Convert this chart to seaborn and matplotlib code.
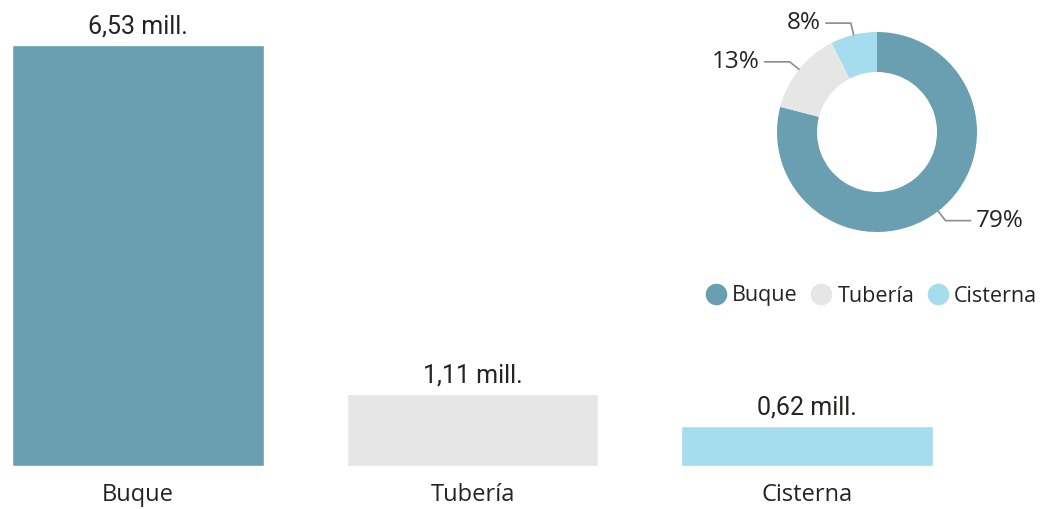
import numpy as np
import matplotlib
matplotlib.use('Agg')
import matplotlib.pyplot as plt
from matplotlib.lines import Line2D
import seaborn as sns

# -------------------------------------------------------------
# DATOS
# -------------------------------------------------------------
categorias = ['Buque', 'Tubería', 'Cisterna']
valores = [6.53, 1.11, 0.62]          # millones
colores = ['#699FB1', '#E6E6E6', '#A5DCEE']

sns.set_theme(style='white')
plt.rcParams['font.family'] = ['Open Sans', 'DejaVu Sans']

fig = plt.figure(figsize=(10.4, 5.09), dpi=100)

# -------------------------------------------------------------
# BARRAS
# -------------------------------------------------------------
ax = fig.add_axes([0, 1 - 466 / 509, 1, 466 / 509])
sns.barplot(x=categorias, y=valores, hue=categorias, palette=colores,
            width=0.753, legend=False, ax=ax, saturation=1)

ax.set_xlim(-0.4126, 2.697)
ax.set_ylim(0, max(valores) * 466 / 421)
for s in ax.spines.values():
    s.set_visible(False)
ax.set_yticks([])
ax.set_ylabel('')
ax.tick_params(axis='x', length=0, pad=12, labelsize=17, labelcolor='#252423')

for cont in ax.containers:
    ax.bar_label(cont, labels=[f'{v:.2f}'.replace('.', ',') + ' mill.' for v in cont.datavalues],
                 padding=5, fontsize=18, color='#252423', family=['Roboto', 'DejaVu Sans'])

# -------------------------------------------------------------
# ANILLO
# -------------------------------------------------------------
cx, cy, r = 877, 132, 100
ax2 = fig.add_axes([(cx - 1.5 * r) / 1040, (509 - cy - 1.5 * r) / 509, 3 * r / 1040, 3 * r / 509])
ax2.pie(valores, colors=colores, startangle=90, counterclock=False,
        wedgeprops=dict(width=0.4, linewidth=0))
ax2.set_xlim(-1.5, 1.5)
ax2.set_ylim(-1.5, 1.5)
ax2.set_aspect('equal')
ax2.axis('off')

total = sum(valores)
acum = 0
for v in valores:
    frac = v / total
    ang = np.deg2rad(90 - (acum + frac / 2) * 360)
    acum += frac
    x0, y0 = np.cos(ang), np.sin(ang)
    x1, y1 = 1.12 * x0, 1.12 * y0
    lado = 1 if x0 > 0 else -1
    x2 = x1 + lado * 0.25
    ax2.plot([x0, x1, x2], [y0, y1, y1], color='#8c8c8c', lw=1.2, clip_on=False)
    ax2.text(x2 + lado * 0.05, y1, f'{frac * 100:.0f}%', ha='left' if lado > 0 else 'right',
             va='center', fontsize=17.5, color='#252423', clip_on=False)

handles = [Line2D([], [], marker='o', linestyle='', markersize=14.5, color=c) for c in colores]
fig.legend(handles, categorias, loc='center', bbox_to_anchor=(871 / 1040, 1 - 296 / 509),
           ncol=3, frameon=False, fontsize=15.5, handletextpad=0.25, columnspacing=0.6,
           handlelength=1.0, labelcolor='#252423', borderpad=0, borderaxespad=0)

plt.savefig('out.png', dpi=100)
